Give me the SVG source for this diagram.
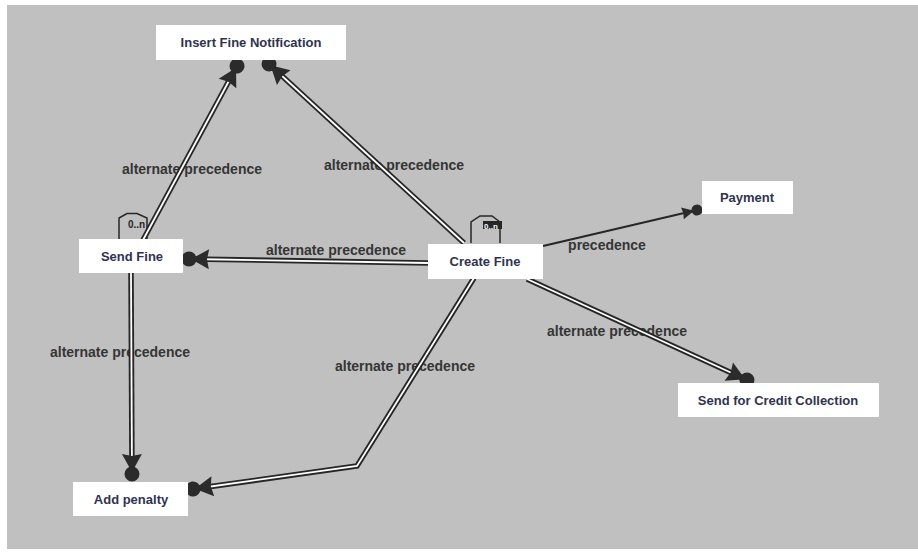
<svg xmlns="http://www.w3.org/2000/svg" width="918" height="552" viewBox="0 0 918 552">
<style>
.node rect{fill:#ffffff}
.node text{font-family:"Liberation Sans",Arial,sans-serif;font-weight:bold;font-size:13px;fill:#30334f;text-anchor:middle}
.lbl{font-family:"Liberation Sans",Arial,sans-serif;font-weight:bold;font-size:14px;fill:#353535;text-anchor:middle}
.outer{fill:none;stroke:#262626;stroke-width:5.5;stroke-linejoin:miter}
.inner{fill:none;stroke:#ffffff;stroke-width:1.8;marker-end:url(#dot)}
.single{fill:none;stroke:#262626;stroke-width:2;marker-end:url(#sdot)}
.badge{fill:none;stroke:#262626;stroke-width:1.5}
.btext{font-family:"Liberation Sans",Arial,sans-serif;font-weight:bold;font-size:10px;fill:#262626}
</style>
<defs>
<marker id="dot" markerUnits="userSpaceOnUse" viewBox="-26 -12 36 24" refX="0" refY="0" markerWidth="36" markerHeight="24" orient="auto" overflow="visible">
<path d="M-20,-10 L-2,0 L-20,10 L-18,0 Z" fill="#2b2b2b"/>
<circle r="7.5" fill="#2b2b2b"/>
</marker>
<marker id="sdot" markerUnits="userSpaceOnUse" viewBox="-20 -8 28 16" refX="0" refY="0" markerWidth="28" markerHeight="16" orient="auto" overflow="visible">
<path d="M-15,-6 L-3,0 L-15,6 L-14,0 Z" fill="#2b2b2b"/>
<circle r="5.5" fill="#2b2b2b"/>
</marker>
</defs>
<rect x="7" y="5" width="911" height="544" fill="#c0c0c0"/>

<g id="badges">
<path class="badge" d="M119,239 V218 L127,213.5 L137,213.5 L147,218 V239"/>
<text class="btext" x="128" y="228">0..n</text>
<path class="badge" d="M471,243 V222 L480,216 L492,216 L500,222 V243"/>
<rect x="483" y="221" width="19" height="8" fill="#262626"/>
<text class="btext" x="484" y="229" style="fill:#ffffff;font-size:8px">0..n</text>
</g>

<g id="connectors">
<text class="lbl" x="192" y="174">alternate precedence</text>
<text class="lbl" x="394" y="170">alternate precedence</text>
<text class="lbl" x="336" y="255">alternate precedence</text>
<text class="lbl" x="607" y="250">precedence</text>
<text class="lbl" x="617" y="336">alternate precedence</text>
<text class="lbl" x="405" y="371">alternate precedence</text>
<text class="lbl" x="120" y="357">alternate precedence</text>

<path class="outer" d="M143,240 L237,66"/>
<path class="inner" d="M143,240 L237,66"/>
<path class="outer" d="M464,243 L269,64"/>
<path class="inner" d="M464,243 L269,64"/>
<path class="outer" d="M428,263 L189,259"/>
<path class="inner" d="M428,263 L189,259"/>
<path class="single" d="M543,246 L697,210"/>
<path class="outer" d="M527,279 L747,380"/>
<path class="inner" d="M527,279 L747,380"/>
<path class="outer" d="M474,278 L357,466 L193,489"/>
<path class="inner" d="M474,278 L357,466 L193,489"/>
<path class="outer" d="M131,273 L132,474"/>
<path class="inner" d="M131,273 L132,474"/>
</g>

<g id="insert-fine-notification" class="node">
<rect x="156" y="25" width="190" height="35"/>
<text x="251" y="47">Insert Fine Notification</text>
</g>
<g id="send-fine" class="node">
<rect x="79" y="239" width="104" height="34"/>
<text x="132" y="261">Send Fine</text>
</g>
<g id="create-fine" class="node">
<rect x="428" y="244" width="115" height="35"/>
<text x="485" y="266">Create Fine</text>
</g>
<g id="payment" class="node">
<rect x="702" y="181" width="91" height="33"/>
<text x="747" y="202">Payment</text>
</g>
<g id="send-for-credit-collection" class="node">
<rect x="678" y="383" width="201" height="34"/>
<text x="778" y="405">Send for Credit Collection</text>
</g>
<g id="add-penalty" class="node">
<rect x="73" y="482" width="115" height="34"/>
<text x="131" y="504">Add penalty</text>
</g>
</svg>
